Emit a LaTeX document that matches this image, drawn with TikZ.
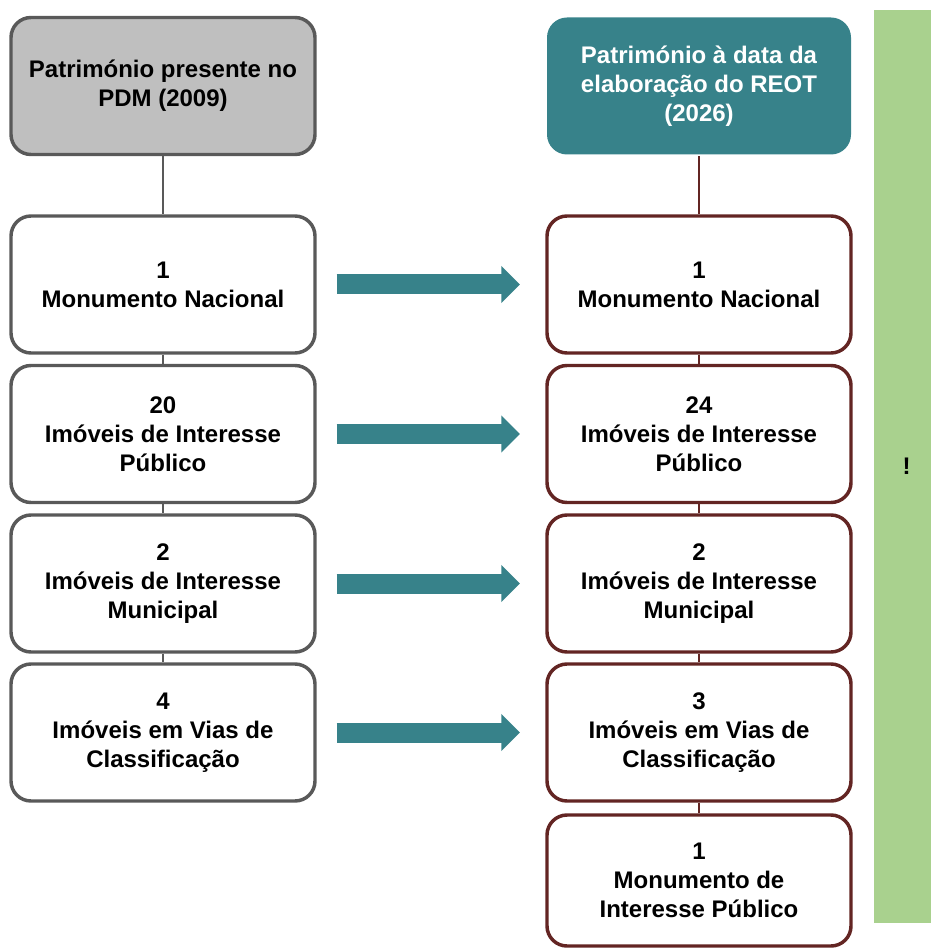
\documentclass[tikz,border=0pt]{standalone}
\usepackage{fontspec}
\setmainfont{Liberation Sans}
\usetikzlibrary{arrows.meta}
\definecolor{pdmgrey}{HTML}{BFBFBF}
\definecolor{pdmedge}{HTML}{595959}
\definecolor{reotteal}{HTML}{37828A}
\definecolor{reotedge}{HTML}{632523}
\definecolor{notegreen}{HTML}{A9D18E}

\begin{document}
\begin{tikzpicture}[x=0.75pt, y=-0.75pt,
                    every node/.style={font=\fontsize{18}{21.75}\selectfont\bfseries, align=center},
                    box/.style={rounded corners=15pt, minimum width=228pt, minimum height=102.75pt,
                                line width=2.6pt, fill=white},
                    pdmbox/.style={box, draw=pdmedge},
                    reotbox/.style={box, draw=reotedge},
                    pdmlink/.style={pdmedge, line width=1.5pt},
                    reotlink/.style={reotedge, line width=1.5pt},
                    fatarrow/.style={reotteal, line width=15pt,
                                     -{Triangle[length=14pt, width=27pt]},
                                     shorten <=15pt, shorten >=19pt}]

  \useasboundingbox (0,0) rectangle (931,948);

  %% ---- coluna esquerda: PDM (2009) ----
  \node[pdmbox, fill=pdmgrey] (ptop) at (163,86) {Património presente no\\PDM (2009)};
  \node[pdmbox] (p1) at (163,284.5) {1\\Monumento Nacional};
  \node[pdmbox] (p2) at (163,434)   {20\\Imóveis de Interesse\\Público};
  \node[pdmbox] (p3) at (163,583.5) {2\\Imóveis de Interesse\\Municipal};
  \node[pdmbox] (p4) at (163,732.5) {4\\Imóveis em Vias de\\Classificação};

  \draw[pdmlink] (ptop) -- (p1);
  \draw[pdmlink] (p1) -- (p2);
  \draw[pdmlink] (p2) -- (p3);
  \draw[pdmlink] (p3) -- (p4);

  %% ---- coluna direita: REOT (2026) ----
  \node[box, fill=reotteal, text=white] (rtop) at (699,86)
    {Património à data da\\elaboração do REOT\\(2026)};
  \node[reotbox] (r1) at (699,284.5) {1\\Monumento Nacional};
  \node[reotbox] (r2) at (699,434)   {24\\Imóveis de Interesse\\Público};
  \node[reotbox] (r3) at (699,583.5) {2\\Imóveis de Interesse\\Municipal};
  \node[reotbox] (r4) at (699,732.5) {3\\Imóveis em Vias de\\Classificação};
  \node[reotbox, minimum height=98.25pt] (r5) at (699,880.5) {1\\Monumento de\\Interesse Público};

  \draw[reotlink] (rtop) -- (r1);
  \draw[reotlink] (r1) -- (r2);
  \draw[reotlink] (r2) -- (r3);
  \draw[reotlink] (r3) -- (r4);
  \draw[reotlink] (r4) -- (r5);

  %% ---- setas entre colunas ----
  \draw[fatarrow] (p1.east) -- (r1.west);
  \draw[fatarrow] (p2.east) -- (r2.west);
  \draw[fatarrow] (p3.east) -- (r3.west);
  \draw[fatarrow] (p4.east) -- (r4.west);

  %% ---- barra lateral verde ----
  \node[fill=notegreen, minimum width=42.75pt, minimum height=684.75pt, inner sep=0pt]
    (note) at (902.5,466.5) {\hspace*{6pt}!};

\end{tikzpicture}
\end{document}
